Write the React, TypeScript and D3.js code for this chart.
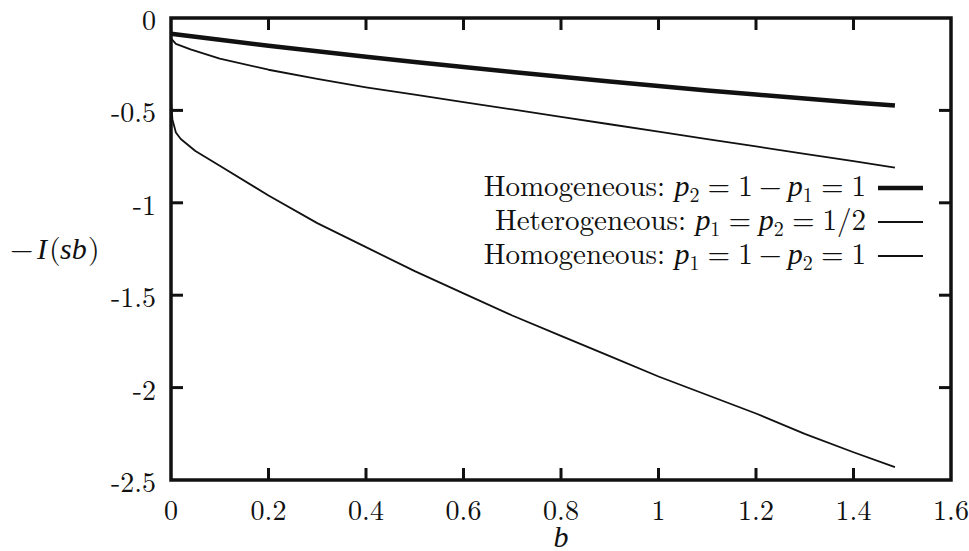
import React from 'react';
import * as d3 from 'd3';

// values
const bHeavy = [0, 0.1, 0.2, 0.3, 0.4, 0.5, 0.6, 0.7, 0.8, 0.9, 1.0, 1.1, 1.2, 1.3, 1.4, 1.485];
const homogeneous21 = [-0.085, -0.118, -0.15, -0.18, -0.21, -0.238, -0.265, -0.292, -0.318, -0.343, -0.368, -0.392, -0.414, -0.436, -0.457, -0.474];

const bMid = [0, 0.01, 0.04, 0.1, 0.2, 0.3, 0.4, 0.5, 0.6, 0.7, 0.8, 0.9, 1.0, 1.1, 1.2, 1.3, 1.4, 1.485];
const heterogeneous = [-0.11, -0.14, -0.17, -0.22, -0.28, -0.33, -0.375, -0.415, -0.455, -0.495, -0.535, -0.575, -0.615, -0.655, -0.695, -0.735, -0.775, -0.81];

const bLow = [0, 0.003, 0.01, 0.02, 0.05, 0.1, 0.2, 0.3, 0.4, 0.5, 0.6, 0.7, 0.8, 0.9, 1.0, 1.1, 1.2, 1.3, 1.4, 1.485];
const homogeneous12 = [-0.45, -0.55, -0.62, -0.655, -0.72, -0.8, -0.96, -1.11, -1.24, -1.37, -1.49, -1.61, -1.72, -1.83, -1.94, -2.04, -2.14, -2.25, -2.35, -2.43];

const xTicks = [0, 0.2, 0.4, 0.6, 0.8, 1, 1.2, 1.4, 1.6];
const yTicks = [0, -0.5, -1, -1.5, -2, -2.5];

const width = 969, height = 551;
const margin = {left: 171, right: 18, top: 18, bottom: 71};
// TeX look: Latin Modern for roman text, Times italic for the math letters
const roman = {fontFamily: '"Latin Modern Roman", "Liberation Serif", serif'};
const italic = {fontFamily: '"Liberation Serif", serif', fontStyle: 'italic'};

const x = d3.scaleLinear().domain([0, 1.6]).range([margin.left, width - margin.right]);
const y = d3.scaleLinear().domain([-2.5, 0]).range([height - margin.bottom, margin.top]);

const line = d3.line<[number, number]>().x(d => x(d[0])).y(d => y(d[1]));
const zip = (a: number[], b: number[]) => a.map((v, i) => [v, b[i]] as [number, number]);

const series = [
    {b: bHeavy, v: homogeneous21, w: 4.5},
    {b: bMid, v: heterogeneous, w: 1.8},
    {b: bLow, v: homogeneous12, w: 1.8},
];

// legend labels as TeX-like tokens: [text, width in em, kind]
// kinds: t = roman text, i = italic, s = subscript, g = gap only
type Tok = [string, number, string];
const thick: Tok = ['', 0.278, 'g'];
const med: Tok = ['', 0.222, 'g'];
const legendRows: Tok[][] = [
    [['Homogeneous:', 6.255, 't'], ['', 0.333, 'g'], ['p', 0.503, 'i'], ['2', 0.35, 's'], thick, ['=', 0.778, 't'], thick,
        ['1', 0.5, 't'], med, ['−', 0.778, 't'], med, ['p', 0.503, 'i'], ['1', 0.35, 's'], thick, ['=', 0.778, 't'], thick, ['1', 0.5, 't']],
    [['Heterogeneous:', 6.59, 't'], ['', 0.333, 'g'], ['p', 0.503, 'i'], ['1', 0.35, 's'], thick, ['=', 0.778, 't'], thick,
        ['p', 0.503, 'i'], ['2', 0.35, 's'], thick, ['=', 0.778, 't'], thick, ['1', 0.5, 't'], ['/', 0.5, 't'], ['2', 0.5, 't']],
    [['Homogeneous:', 6.255, 't'], ['', 0.333, 'g'], ['p', 0.503, 'i'], ['1', 0.35, 's'], thick, ['=', 0.778, 't'], thick,
        ['1', 0.5, 't'], med, ['−', 0.778, 't'], med, ['p', 0.503, 'i'], ['2', 0.35, 's'], thick, ['=', 0.778, 't'], thick, ['1', 0.5, 't']],
];

const App = () => {
    const x0 = x.range()[0], x1 = x.range()[1];
    const y0 = y.range()[0], y1 = y.range()[1];
    const tick = 12;
    const em = 29;
    const legendRight = 866;
    const ym = (y0 + y1) / 2 + 10;

    return (
        <svg width={width} height={height} style={{position: 'absolute', left: 0, top: 0, background: '#fff'}}>
            {/* curves */}
            {series.map((s, i) => (
                <path key={i} d={line(zip(s.b, s.v)) || ''} fill="none" stroke="#111" strokeWidth={s.w}
                      strokeLinejoin="round"/>
            ))}

            {/* ticks on all four sides */}
            {xTicks.slice(1, -1).map(t => (
                <g key={'xt' + t} stroke="#111" strokeWidth={3}>
                    <line x1={x(t)} x2={x(t)} y1={y0} y2={y0 - tick}/>
                    <line x1={x(t)} x2={x(t)} y1={y1} y2={y1 + tick}/>
                </g>
            ))}
            {yTicks.slice(1, -1).map(t => (
                <g key={'yt' + t} stroke="#111" strokeWidth={3}>
                    <line x1={x0} x2={x0 + tick} y1={y(t)} y2={y(t)}/>
                    <line x1={x1} x2={x1 - tick} y1={y(t)} y2={y(t)}/>
                </g>
            ))}
            <rect x={x0} y={y1} width={x1 - x0} height={y0 - y1} fill="none" stroke="#111" strokeWidth={3.5}/>

            {/* tick labels */}
            {xTicks.map(t => (
                <text key={'xl' + t} x={x(t)} y={y0 + 40} textAnchor="middle" fontSize={28} fill="#111"
                      style={roman}>{t}</text>
            ))}
            {yTicks.map(t => (
                <text key={'yl' + t} x={x0 - 15} y={y(t) + 12} textAnchor="end" fontSize={28} fill="#111"
                      style={roman}>{t}</text>
            ))}

            {/* axis titles */}
            <text x={(x0 + x1) / 2} y={y0 + 67} textAnchor="middle" fontSize={30} fill="#111" style={italic}>b</text>
            <text fill="#111" fontSize={30} y={ym}>
                <tspan x={10} style={roman}>−</tspan>
                <tspan x={37} style={italic}>I</tspan>
                <tspan x={49} style={roman}>(</tspan>
                <tspan x={60} style={italic}>sb</tspan>
                <tspan x={88} style={roman}>)</tspan>
            </text>

            {/* legend */}
            {legendRows.map((row, i) => {
                const ly = 188 + i * 34;
                const total = d3.sum(row, t => t[1]) * em;
                let cx = legendRight - total;
                const parts = row.map((t, j) => {
                    const left = cx;
                    cx += t[1] * em;
                    if (t[2] === 'g') return null;
                    // centre each glyph in its TeX box so spacing follows TeX widths
                    const wide = t[2] === 't' && t[0].length > 1;
                    return (
                        <tspan key={j} x={wide ? left : left + t[1] * em / 2}
                               y={ly + 8 + (t[2] === 's' ? 6 : 0)}
                               textAnchor={wide ? 'start' : 'middle'}
                               fontSize={t[2] === 's' ? 20 : t[2] === 'i' ? 30 : em}
                               style={t[2] === 'i' ? italic : roman}>{t[0]}</tspan>
                    );
                });
                return (
                    <g key={'lg' + i}>
                        <text fill="#111">{parts}</text>
                        <line x1={878} x2={923} y1={ly} y2={ly} stroke="#111" strokeWidth={series[i].w}/>
                    </g>
                );
            })}
        </svg>
    );
};

export default App;
